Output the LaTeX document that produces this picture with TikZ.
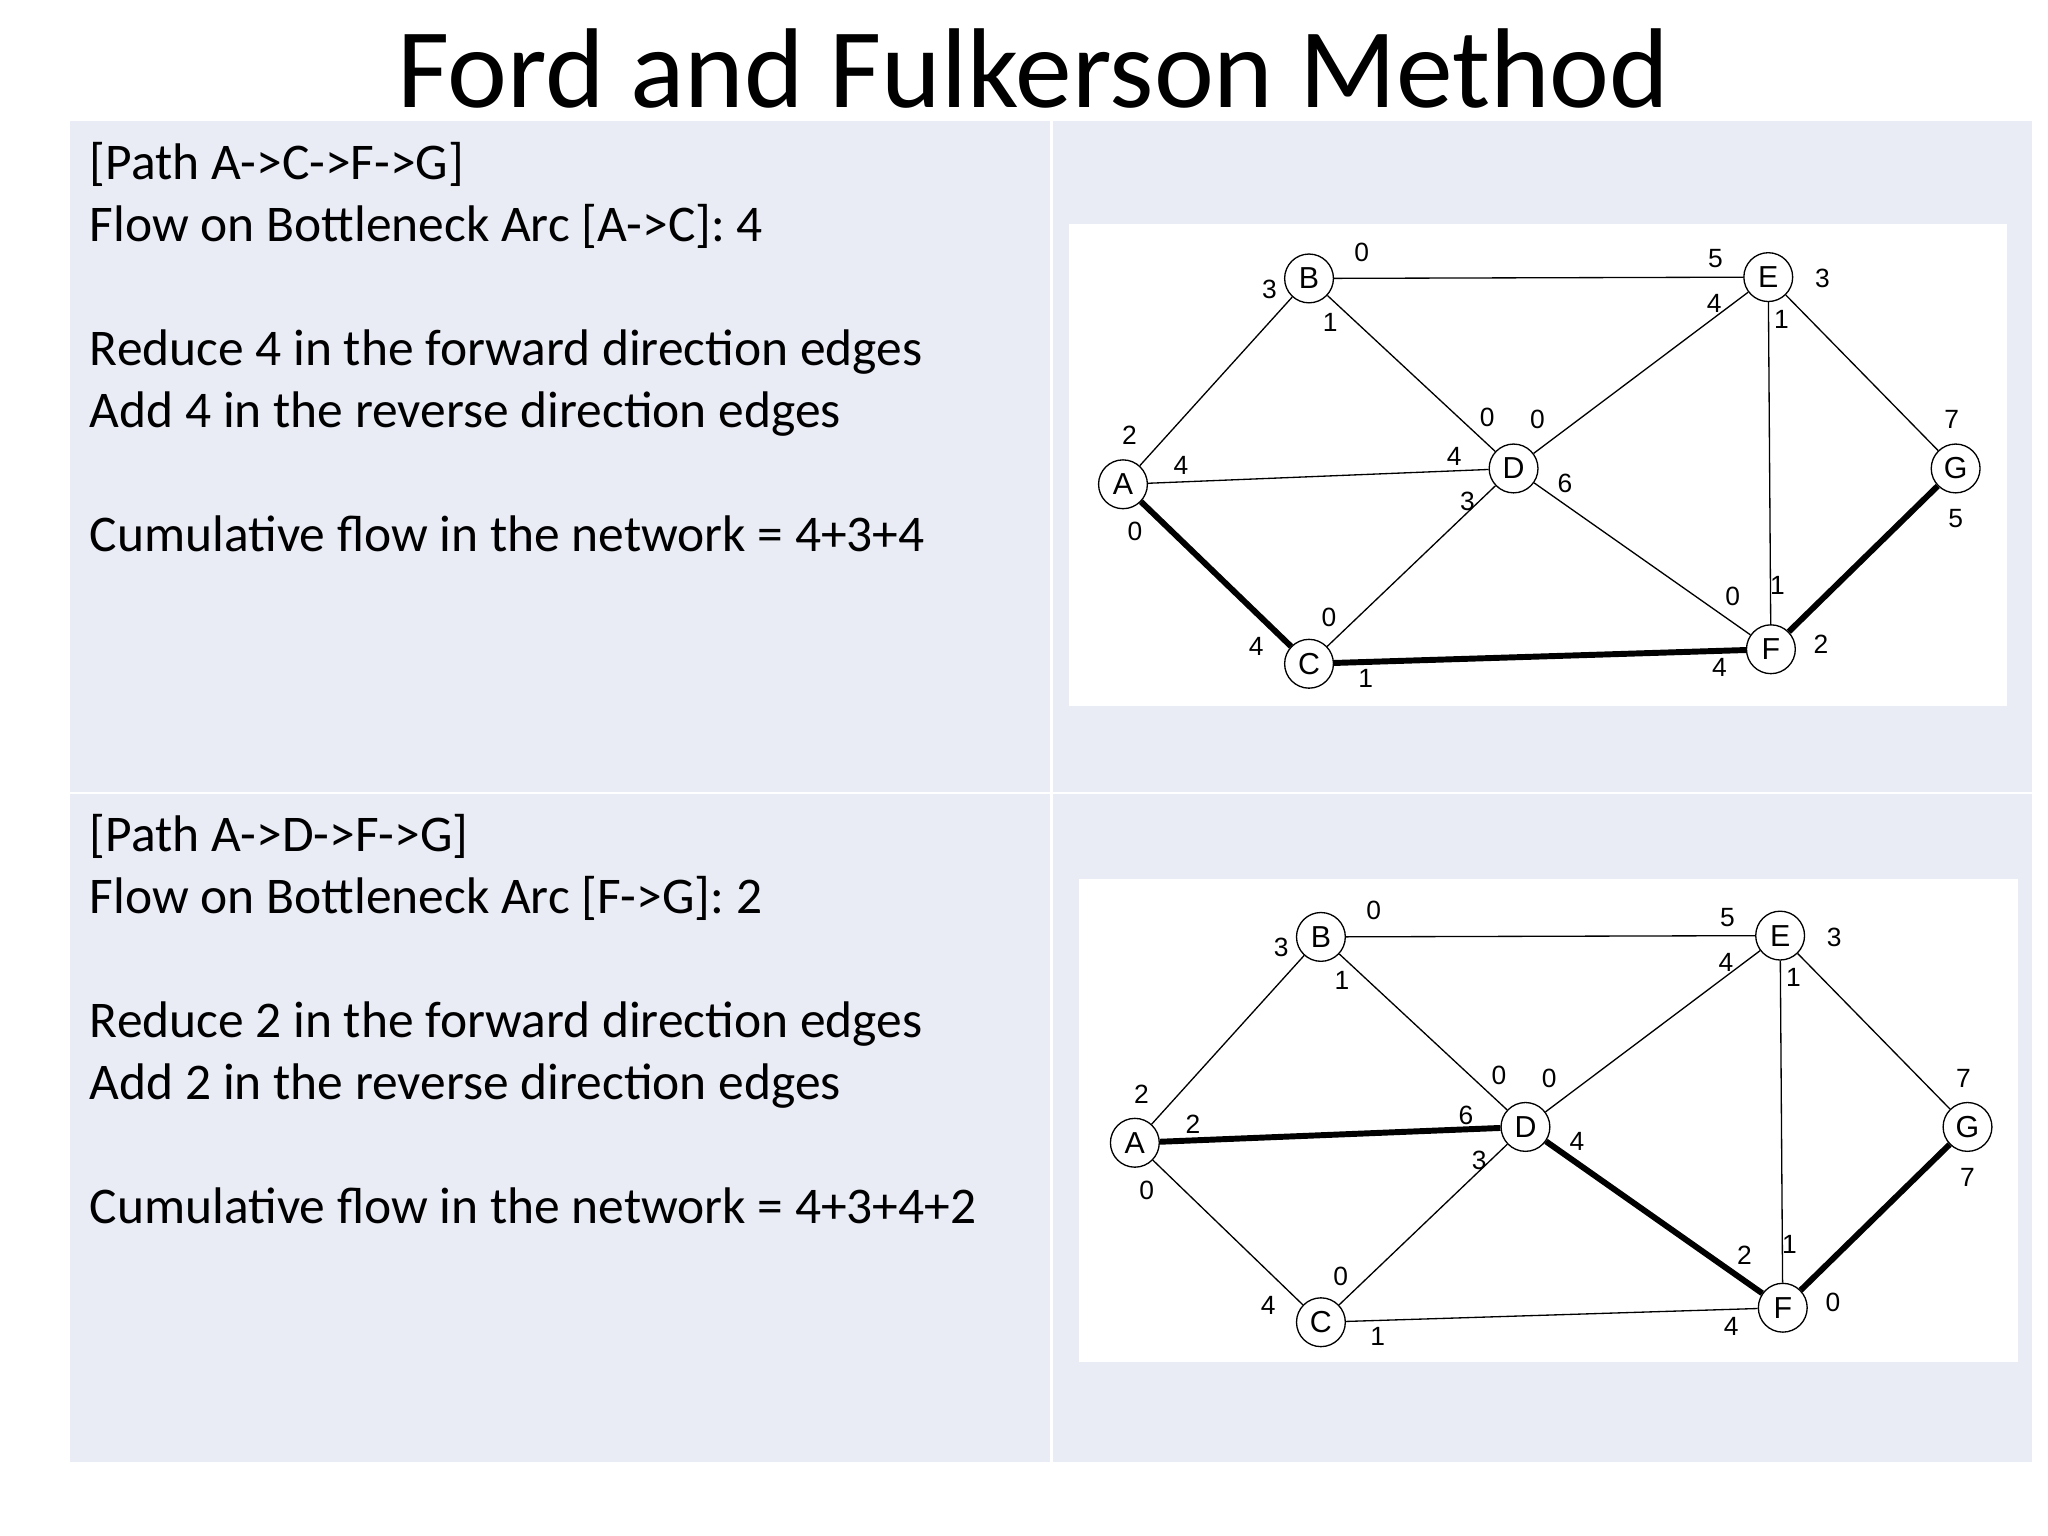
\documentclass[tikz,border=0pt]{standalone}
\usepackage{fontspec}
\setmainfont{Carlito}
\newfontfamily\lblfont{Liberation Sans}
\definecolor{panel}{HTML}{E9EBF5}
\begin{document}
\begin{tikzpicture}[x=1pt,y=-1pt,
  vx/.style={circle,draw,line width=1pt,fill=white,minimum size=37pt,inner sep=0pt,font=\lblfont\fontsize{23}{23}\selectfont},
  ed/.style={line width=1pt},
  thk/.style={line width=4.5pt},
  lb/.style={font=\lblfont\fontsize{20}{20}\selectfont,inner sep=0pt},
  txt/.style={anchor=base west,font=\fontsize{39}{40}\selectfont,inner sep=0pt}]
\useasboundingbox (0,0) rectangle (1552,1164);
\fill[white] (0,0) rectangle (1552,1164);
\fill[panel] (53,92) rectangle (1540,1108);
\draw[white,line width=2pt] (797,92) -- (797,1108);
\draw[white,line width=2pt] (53,601) -- (1540,601);
\node[font=\fontsize{86}{90}\selectfont,inner sep=0pt] (title) at (783,52) {Ford and Fulkerson Method};
% text panel 1
\node[txt] (t1) at (68,136) {[Path A->C->F->G]};
\node[txt] (t2) at (68,183) {Flow on Bottleneck Arc [A->C]: 4};
\node[txt] (t3) at (68,277) {Reduce 4 in the forward direction edges};
\node[txt] (t4) at (68,324) {Add 4 in the reverse direction edges};
\node[txt] (t5) at (68,418) {Cumulative flow in the network = 4+3+4};
% text panel 2
\node[txt] (u1) at (68,645) {[Path A->D->F->G]};
\node[txt] (u2) at (68,692) {Flow on Bottleneck Arc [F->G]: 2};
\node[txt] (u3) at (68,786) {Reduce 2 in the forward direction edges};
\node[txt] (u4) at (68,833) {Add 2 in the reverse direction edges};
\node[txt] (u5) at (68,927) {Cumulative flow in the network = 4+3+4+2};
% graph 1
\fill[white] (810,170) rectangle (1521,535);
\begin{scope}
\node[vx] (A) at (851,367) {A};
\node[vx] (B) at (992,211) {B};
\node[vx] (C) at (992,503) {C};
\node[vx] (D) at (1147,355) {D};
\node[vx] (E) at (1340,210) {E};
\node[vx] (F) at (1342,492) {F};
\node[vx] (G) at (1482,355) {G};
\draw[ed] (A) -- (B); \draw[ed] (B) -- (E); \draw[ed] (B) -- (D);
\draw[ed] (A) -- (D); \draw[thk] (A) -- (C); \draw[ed] (C) -- (D);
\draw[thk] (C) -- (F); \draw[ed] (D) -- (E); \draw[ed] (D) -- (F);
\draw[ed] (E) -- (F); \draw[ed] (E) -- (G); \draw[thk] (F) -- (G);
\node[lb] at (1032,191) {0}; \node[lb] at (1300,196) {5};
\node[lb] at (962,219) {3}; \node[lb] at (1008,244) {1};
\node[lb] at (1127,316) {0}; \node[lb] at (1381,211) {3};
\node[lb] at (1299,230) {4}; \node[lb] at (1350,242) {1};
\node[lb] at (1165,318) {0}; \node[lb] at (1102,346) {4};
\node[lb] at (1186,366) {6}; \node[lb] at (1112,380) {3};
\node[lb] at (856,330) {2}; \node[lb] at (895,353) {4};
\node[lb] at (860,403) {0}; \node[lb] at (1479,318) {7};
\node[lb] at (1482,393) {5}; \node[lb] at (1313,452) {0};
\node[lb] at (1347,444) {1}; \node[lb] at (1380,488) {2};
\node[lb] at (1303,506) {4}; \node[lb] at (1007,468) {0};
\node[lb] at (952,490) {4}; \node[lb] at (1035,514) {1};
\end{scope}
% graph 2
\fill[white] (818,666) rectangle (1529,1032);
\begin{scope}[shift={(9,499)}]
\node[vx] (A2) at (851,367) {A};
\node[vx] (B2) at (992,211) {B};
\node[vx] (C2) at (992,503) {C};
\node[vx] (D2) at (1147,355) {D};
\node[vx] (E2) at (1340,210) {E};
\node[vx] (F2) at (1342,492) {F};
\node[vx] (G2) at (1482,355) {G};
\draw[ed] (A2) -- (B2); \draw[ed] (B2) -- (E2); \draw[ed] (B2) -- (D2);
\draw[thk] (A2) -- (D2); \draw[ed] (A2) -- (C2); \draw[ed] (C2) -- (D2);
\draw[ed] (C2) -- (F2); \draw[ed] (D2) -- (E2); \draw[thk] (D2) -- (F2);
\draw[ed] (E2) -- (F2); \draw[ed] (E2) -- (G2); \draw[thk] (F2) -- (G2);
\node[lb] at (1032,191) {0}; \node[lb] at (1300,196) {5};
\node[lb] at (962,219) {3}; \node[lb] at (1008,244) {1};
\node[lb] at (1127,316) {0}; \node[lb] at (1381,211) {3};
\node[lb] at (1299,230) {4}; \node[lb] at (1350,242) {1};
\node[lb] at (1165,318) {0}; \node[lb] at (1102,346) {6};
\node[lb] at (1186,366) {4}; \node[lb] at (1112,380) {3};
\node[lb] at (856,330) {2}; \node[lb] at (895,353) {2};
\node[lb] at (860,403) {0}; \node[lb] at (1479,318) {7};
\node[lb] at (1482,393) {7}; \node[lb] at (1313,452) {2};
\node[lb] at (1347,444) {1}; \node[lb] at (1380,488) {0};
\node[lb] at (1303,506) {4}; \node[lb] at (1007,468) {0};
\node[lb] at (952,490) {4}; \node[lb] at (1035,514) {1};
\end{scope}
\end{tikzpicture}
\end{document}
